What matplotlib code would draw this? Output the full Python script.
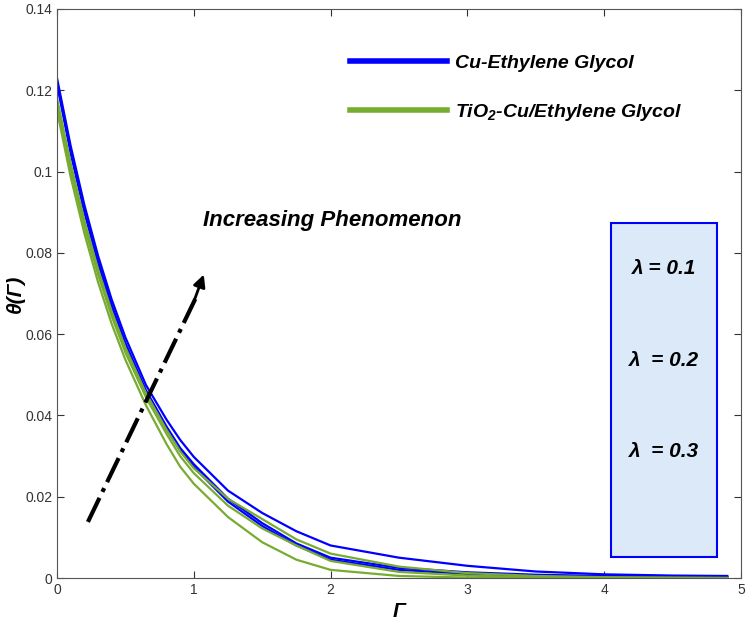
import matplotlib
matplotlib.use('Agg')
import matplotlib.pyplot as plt
from matplotlib.patches import Rectangle

plt.rcParams['font.family'] = ['Liberation Sans', 'DejaVu Sans']

# eixo Γ
gama = [0, 0.1, 0.2, 0.3, 0.4, 0.5, 0.65, 0.8, 0.9, 1.0, 1.25, 1.5, 1.75, 2.0, 2.5, 3.0, 3.5, 4.0, 4.5, 4.9]

# Cu-Ethylene Glycol, lambda = 0.1, 0.2, 0.3
cu_l1 = [0.1215, 0.1045, 0.0900, 0.0775, 0.0667, 0.0574, 0.0458, 0.0367, 0.0314, 0.0273, 0.0188, 0.0128, 0.0080, 0.0045, 0.0020, 0.0010, 0.0005, 0.0003, 0.0002, 0.0001]
cu_l2 = [0.1222, 0.1053, 0.0906, 0.0780, 0.0672, 0.0578, 0.0462, 0.0373, 0.0320, 0.0280, 0.0195, 0.0135, 0.0085, 0.0050, 0.0025, 0.0014, 0.0008, 0.0005, 0.0003, 0.0002]
cu_l3 = [0.1230, 0.1063, 0.0918, 0.0793, 0.0685, 0.0592, 0.0475, 0.0390, 0.0340, 0.0298, 0.0215, 0.0160, 0.0115, 0.0080, 0.0050, 0.0030, 0.0016, 0.0009, 0.0006, 0.0005]

# TiO2-Cu/Ethylene Glycol, lambda = 0.1, 0.2, 0.3
ti_l1 = [0.1150, 0.0987, 0.0848, 0.0728, 0.0625, 0.0537, 0.0425, 0.0330, 0.0274, 0.0232, 0.0150, 0.0088, 0.0045, 0.0020, 0.0005, 0.0001, 0.0, 0.0, 0.0, 0.0]
ti_l2 = [0.1165, 0.1005, 0.0866, 0.0747, 0.0644, 0.0555, 0.0445, 0.0355, 0.0300, 0.0258, 0.0178, 0.0122, 0.0080, 0.0042, 0.0015, 0.0006, 0.0002, 0.0001, 0.0, 0.0]
ti_l3 = [0.1180, 0.1020, 0.0880, 0.0760, 0.0656, 0.0567, 0.0455, 0.0365, 0.0312, 0.0270, 0.0195, 0.0145, 0.0095, 0.0060, 0.0028, 0.0012, 0.0005, 0.0002, 0.0001, 0.0]

lambdas = ['λ = 0.1', 'λ  = 0.2', 'λ  = 0.3']
yticks = [0, 0.02, 0.04, 0.06, 0.08, 0.1, 0.12, 0.14]
ytick_labels = ['0', '0.02', '0.04', '0.06', '0.08', '0.1', '0.12', '0.14']

azul = '#0000ff'
verde = '#77ac30'

fig = plt.figure(figsize=(7.49, 6.25), dpi=100)
ax = fig.add_axes([0.0761, 0.0752, 0.9132, 0.9104])

l_cu = None
for y in [cu_l1, cu_l2, cu_l3]:
    l_cu, = ax.plot(gama, y, color=azul, lw=1.6)
l_ti = None
for y in [ti_l1, ti_l2, ti_l3]:
    l_ti, = ax.plot(gama, y, color=verde, lw=1.6)

ax.set_xlim(0, 5)
ax.set_ylim(0, 0.14)
ax.set_xticks(range(6))
ax.set_yticks(yticks)
ax.set_yticklabels(ytick_labels)
ax.tick_params(direction='in', top=True, right=True, labelsize=10, colors='#333333', length=5)
for s in ax.spines.values():
    s.set_color('#555555')

ax.set_xlabel('Γ', fontsize=15, fontweight='bold', style='italic', labelpad=4)
ax.set_ylabel('θ(Γ)', fontsize=15, fontweight='bold', style='italic', labelpad=0)

leg = ax.legend([l_cu, l_ti], ['Cu-Ethylene Glycol', r'TiO$\mathregular{_2}$-Cu/Ethylene Glycol'],
                loc='upper left', bbox_to_anchor=(0.428, 0.921), frameon=False,
                borderaxespad=0, borderpad=0,
                handlelength=5.0, labelspacing=1.55, handletextpad=0.4,
                prop={'size': 14, 'weight': 'bold', 'style': 'italic'})
for h in leg.legend_handles:
    h.set_linewidth(4)

# seta "Increasing Phenomenon"
ax.plot([0.226, 1.03], [0.0138, 0.0700], color='k', lw=3, ls='-.')
ax.annotate('', xy=(1.08, 0.0753), xytext=(1.0, 0.0680),
            arrowprops=dict(arrowstyle='-|>', color='k', lw=2, mutation_scale=18))
ax.text(1.066, 0.088, 'Increasing Phenomenon', fontsize=16, fontweight='bold',
        style='italic', va='center', ha='left')

# caixa com os valores de lambda
ax.add_patch(Rectangle((4.05, 0.0052), 0.775, 0.0821, facecolor='#dce9f8',
                       edgecolor=azul, lw=1.5, zorder=3))
for lam, yy in zip(lambdas, [0.0762, 0.0536, 0.0312]):
    ax.text(4.44, yy, lam, fontsize=15, fontweight='bold', style='italic',
            ha='center', va='center', zorder=4)

fig.savefig('out.png', dpi=100)
